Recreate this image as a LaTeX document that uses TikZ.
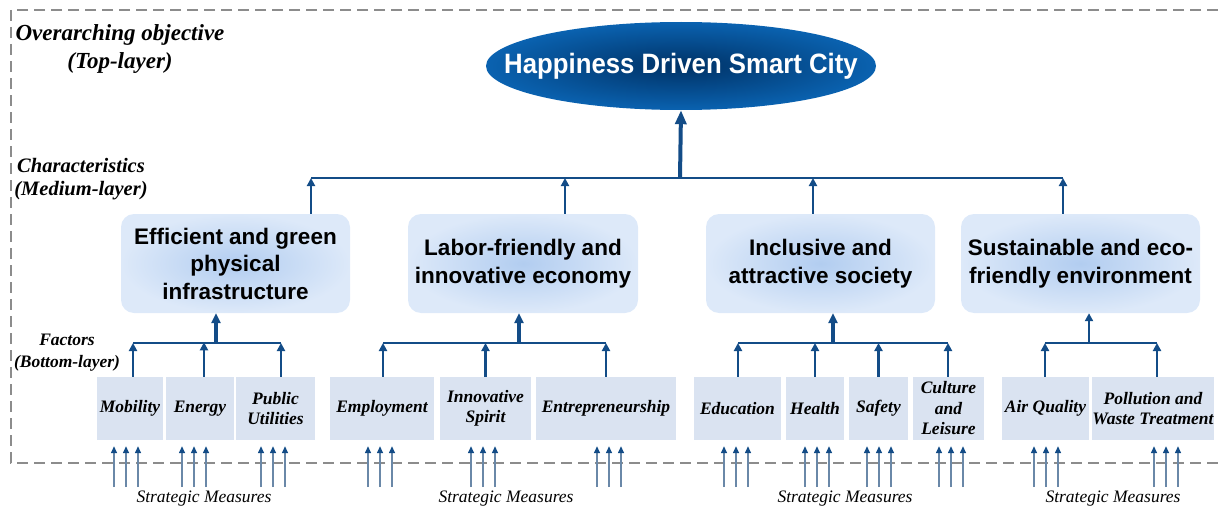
\documentclass[tikz,border=0pt]{standalone}
\usepackage{fontspec}
\setmainfont{Liberation Serif}
\newfontfamily\sansf{Liberation Sans}
\usetikzlibrary{arrows.meta,shapes.geometric,calc}
\definecolor{dblue}{HTML}{134C87}
\definecolor{sblue}{HTML}{6A88A8}
\definecolor{fbox}{HTML}{DAE3F1}
\definecolor{mboxin}{HTML}{B2CDF0}
\definecolor{mboxout}{HTML}{DDE9F9}
\definecolor{frameg}{HTML}{8C8C8C}
\begin{document}
\begin{tikzpicture}[x=1pt,y=-1pt,
  midbox/.style={rounded corners=13pt, shade, shading=radial, inner color=mboxin, outer color=mboxout,
     align=center, font=\sansf\bfseries\fontsize{22.5}{27.5}\selectfont, inner sep=0pt, minimum height=99pt},
  facbox/.style={fill=fbox, align=center, font=\bfseries\itshape\fontsize{17.5}{20.5}\selectfont, inner sep=0pt, minimum height=63pt},
  layerlbl/.style={align=center, inner sep=0pt, font=\bfseries\itshape},
  measure/.style={font=\itshape\fontsize{17.5}{20}\selectfont, inner sep=0pt},
  bus/.style={draw=dblue, line width=2.6pt},
  arr/.style={draw=dblue, line width=2.6pt, -{Triangle[length=8pt,width=8pt]}},
  bigarr/.style={draw=dblue, line width=4pt, -{Triangle[length=14pt,width=11pt]}},
  midarr/.style={draw=dblue, line width=3.4pt, -{Triangle[length=10pt,width=9pt]}},
  marr/.style={draw=sblue, line width=1.4pt, -{Triangle[color=dblue,length=7pt,width=6pt]}},
  frame/.style={draw=frameg, line width=1.6pt, dash pattern=on 11pt off 6pt}
]
\useasboundingbox (0,0) rectangle (1218,511);

% frame
\draw[frame] (1218,10) -- (11,10) -- (11,463) -- (1218,463);

% layer labels
\node[layerlbl, font=\bfseries\itshape\fontsize{23}{28}\selectfont] (l1) at (120,49) {Overarching objective\\(Top-layer)};
\node[layerlbl, font=\bfseries\itshape\fontsize{20.5}{23}\selectfont] (l2) at (81,179) {Characteristics\\(Medium-layer)};
\node[layerlbl, font=\bfseries\itshape\fontsize{17.5}{22}\selectfont] (l3) at (67,353) {Factors\\(Bottom-layer)};

% top
\node[ellipse, minimum width=390pt, minimum height=88pt, inner sep=0pt, shade, shading=radial,
  inner color={rgb,255:red,0;green,50;blue,102}, outer color={rgb,255:red,10;green,98;blue,176},
  text=white, font=\sansf\bfseries\fontsize{28}{30}\selectfont] (top) at (681,66)
  {\makebox[0pt]{\scalebox{0.92}[1]{Happiness Driven Smart City}}};

% medium boxes
\node[midbox, minimum width=229pt] (m1) at (235.5,263.5) {Efficient and green\\physical\\infrastructure};
\node[midbox, minimum width=230pt] (m2) at (523,263.5) {Labor-friendly and\\innovative economy};
\node[midbox, minimum width=229pt] (m3) at (820.5,263.5) {Inclusive and\\attractive society};
\node[midbox, minimum width=239pt] (m4) at (1080.5,263.5) {Sustainable and eco-\\friendly environment};

% top bus
\coordinate (j1) at (311,178);
\coordinate (j2) at (565,178);
\coordinate (j3) at (813,178);
\coordinate (j4) at (1063,178);
\coordinate (jc) at (680,178);
\draw[bus] (j1) -- (j4);
\draw[bigarr] (jc) -- (top.south);
\foreach \m/\j in {m1/j1,m2/j2,m3/j3,m4/j4}
  \draw[arr] (\m.north -| \j) -- (\j);

% factor boxes
\node[facbox, minimum width=66pt] (f1) at (130,408.5) {Mobility};
\node[facbox, minimum width=68pt] (f2) at (200,408.5) {Energy};
\node[facbox, minimum width=79pt] (f3) at (275.5,408.5) {Public\\Utilities};
\node[facbox, minimum width=104pt] (f4) at (382,408.5) {Employment};
\node[facbox, minimum width=91pt] (f5) at (485.5,408.5) {Innovative\\Spirit};
\node[facbox, minimum width=140pt] (f6) at (606,408.5) {Entrepreneurship};
\node[facbox, minimum width=87pt] (f7) at (737.5,408.5) {Education};
\node[facbox, minimum width=58pt] (f8) at (815,408.5) {Health};
\node[facbox, minimum width=59pt] (f9) at (878.5,408.5) {Safety};
\node[facbox, minimum width=71pt] (f10) at (948.5,408.5) {Culture\\and\\Leisure};
\node[facbox, minimum width=87pt] (f11) at (1045.5,408.5) {Air Quality};
\node[facbox, minimum width=120pt] (f12) at (1153,408.5) {Pollution and\\Waste Treatment};

% factor buses
\coordinate (g1a) at (133,343); \coordinate (g1b) at (281,343); \coordinate (g1c) at (216,343);
\coordinate (g2a) at (383,343); \coordinate (g2b) at (606,343); \coordinate (g2c) at (519,343);
\coordinate (g3a) at (738,343); \coordinate (g3b) at (948,343); \coordinate (g3c) at (833,343);
\coordinate (g4a) at (1045,343); \coordinate (g4b) at (1157,343); \coordinate (g4c) at (1089,343);
\draw[bus] (g1a) -- (g1b);
\draw[bus] (g2a) -- (g2b);
\draw[bus] (g3a) -- (g3b);
\draw[bus] (g4a) -- (g4b);
\draw[midarr] (g1c) -- (m1.south -| g1c);
\draw[midarr] (g2c) -- (m2.south -| g2c);
\draw[midarr] (g3c) -- (m3.south -| g3c);
\draw[arr] (g4c) -- (m4.south -| g4c);

\draw[arr] (f1.north -| g1a) -- (g1a);
\draw[arr] ($(f2.north)+(4,0)$) -- ($(f2.north)+(4,-34.5)$);
\draw[arr] (f3.north -| g1b) -- (g1b);
\draw[arr] (f4.north -| g2a) -- (g2a);
\draw[arr] (f5.north) -- (f5.north |- g2a);
\draw[arr] (f6.north -| g2b) -- (g2b);
\draw[arr] (f7.north -| g3a) -- (g3a);
\draw[arr] (f8.north) -- (f8.north |- g3a);
\draw[arr] (f9.north) -- (f9.north |- g3a);
\draw[arr] (f10.north -| g3b) -- (g3b);
\draw[arr] (f11.north -| g4a) -- (g4a);
\draw[arr] (f12.north -| g4b) -- (g4b);

% strategic measure arrows
\foreach \f/\o in {f1/-4,f2/-6,f3/-2.5,f4/-2,f5/-2.5,f6/3,f7/-1.5,f8/2,f9/0.5,f10/2.5,f11/0.5,f12/13}
  \foreach \d in {-12,0,12}
    \draw[marr] ($(\f.south)+(\o+\d,47)$) -- ($(\f.south)+(\o+\d,6)$);

% strategic measures labels
\node[measure] (s1) at (204,499) {Strategic Measures};
\node[measure] (s2) at (506,499) {Strategic Measures};
\node[measure] (s3) at (845,499) {Strategic Measures};
\node[measure] (s4) at (1113,499) {Strategic Measures};
\end{tikzpicture}
\end{document}
